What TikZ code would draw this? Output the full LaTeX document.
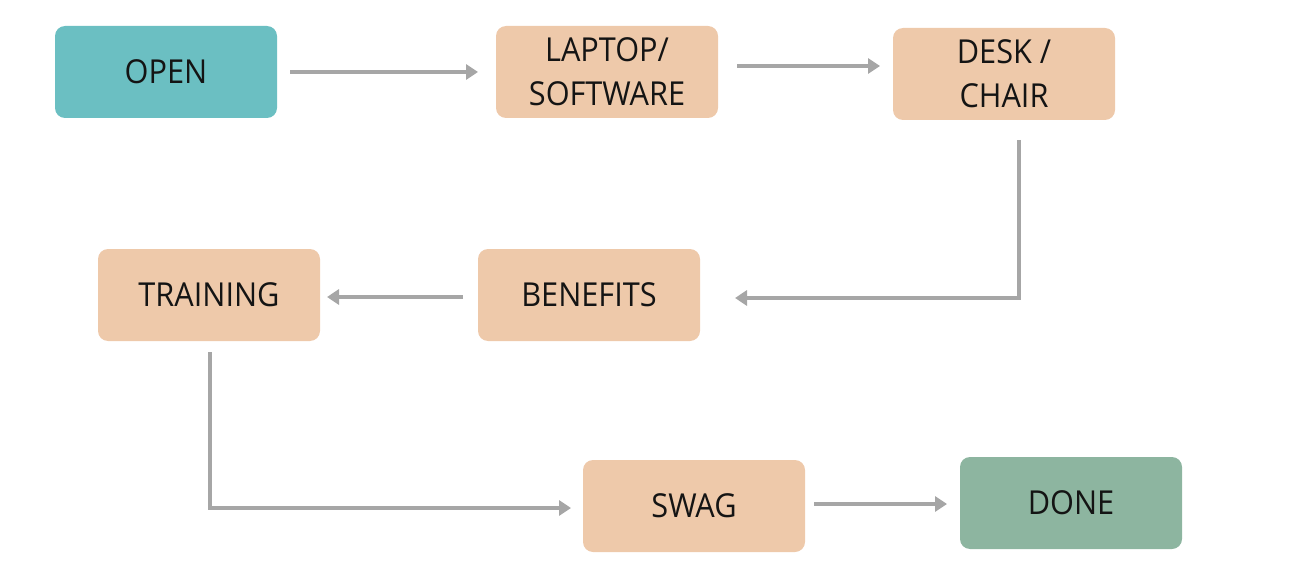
\documentclass[tikz,border=0pt]{standalone}
\usepackage{fontspec}
\setmainfont{Open Sans}[FakeStretch=0.93]
\usetikzlibrary{arrows.meta}
\definecolor{tealc}{HTML}{6BBFC2}
\definecolor{peach}{HTML}{EEC9AA}
\definecolor{greenc}{HTML}{8DB5A0}
\definecolor{arrowc}{HTML}{A6A6A6}
\definecolor{txt}{HTML}{141414}
\tikzset{
  box/.style={rounded corners=10pt, minimum width=222pt, minimum height=92pt,
    inner sep=0pt, align=center, text=txt, font=\fontsize{33}{44}\selectfont},
  conn/.style={draw=arrowc, line width=4pt, -{Triangle[length=12pt,width=15pt]}}
}
\begin{document}
\begin{tikzpicture}[x=1pt,y=-1pt]
\useasboundingbox (0,0) rectangle (1299,575);
\node[box, fill=tealc] (open) at (166,72) {OPEN};
\node[box, fill=peach] (laptop) at (607,72) {LAPTOP/\\SOFTWARE};
\node[box, fill=peach] (desk) at (1004,74) {DESK /\\CHAIR};
\node[box, fill=peach] (training) at (209,295) {TRAINING};
\node[box, fill=peach] (benefits) at (589,295) {BENEFITS};
\node[box, fill=peach] (swag) at (694,506) {SWAG};
\node[box, fill=greenc] (done) at (1071,503) {DONE};

\coordinate (a1s) at (290,72);   \coordinate (a1e) at (478,72);
\coordinate (a2s) at (737,66);   \coordinate (a2e) at (880,66);
\coordinate (a3s) at (1019,140); \coordinate (c1) at (1019,298); \coordinate (a3e) at (735,298);
\coordinate (a4s) at (463,297);  \coordinate (a4e) at (327,297);
\coordinate (a5s) at (210,352);  \coordinate (c2) at (210,508);  \coordinate (a5e) at (571,508);
\coordinate (a6s) at (814,504);  \coordinate (a6e) at (947,504);

\draw[conn] (a1s) -- (a1e);
\draw[conn] (a2s) -- (a2e);
\draw[conn] (a3s) -- (c1) -- (a3e);
\draw[conn] (a4s) -- (a4e);
\draw[conn] (a5s) -- (c2) -- (a5e);
\draw[conn] (a6s) -- (a6e);
\end{tikzpicture}
\end{document}
